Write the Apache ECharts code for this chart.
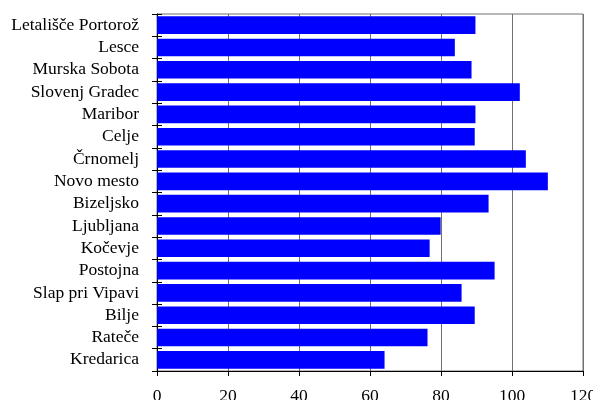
<!DOCTYPE html>
<html><head><meta charset="utf-8">
<script src="https://cdn.jsdelivr.net/npm/echarts@6/dist/echarts.min.js"></script>
<style>html,body{margin:0;padding:0;background:#fff}#c{width:593px;height:400px}</style>
</head><body><div id="c"></div>
<script>
const categories = ["Letališče Portorož","Lesce","Murska Sobota","Slovenj Gradec","Maribor","Celje","Črnomelj","Novo mesto","Bizeljsko","Ljubljana","Kočevje","Postojna","Slap pri Vipavi","Bilje","Rateče","Kredarica"];
const values = [89.7,83.9,88.6,102.2,89.7,89.5,103.9,110.1,93.4,79.9,76.8,95.1,85.8,89.5,76.2,64.1];
const xTicks = {min:0, max:120, interval:20};
const font = "Liberation Serif";
const chart = echarts.init(document.getElementById('c'));
chart.setOption({
  animation:false,
  grid:{left:157,right:10,top:14,bottom:29,show:true,borderColor:'#707070',borderWidth:1,outerBoundsMode:'none',containLabel:false},
  xAxis:{type:'value',min:xTicks.min,max:xTicks.max,interval:xTicks.interval,
    axisLine:{show:true,lineStyle:{color:'#000'}},
    axisTick:{show:true,length:5,lineStyle:{color:'#000'}},
    splitLine:{show:true,lineStyle:{color:'#707070',width:1}},
    axisLabel:{color:'#000',fontFamily:font,fontSize:17.5,margin:16,hideOverlap:false}},
  yAxis:[{type:'category',data:categories,inverse:true,
    axisLine:{show:true,lineStyle:{color:'#000'}},
    axisTick:{show:true,length:5,lineStyle:{color:'#000'}},
    splitLine:{show:false},
    axisLabel:{color:'#000',fontFamily:font,fontSize:17.5,margin:18,interval:0,hideOverlap:false}},
    {type:'category',data:categories,inverse:true,position:'left',
    axisLine:{show:false},
    axisTick:{show:true,inside:true,length:5,lineStyle:{color:'#000'}},
    axisLabel:{show:false},splitLine:{show:false}}],
  series:[{type:'bar',data:values,barCategoryGap:'21%',itemStyle:{color:'#0000FF'},yAxisIndex:0}]
});
</script></body></html>
